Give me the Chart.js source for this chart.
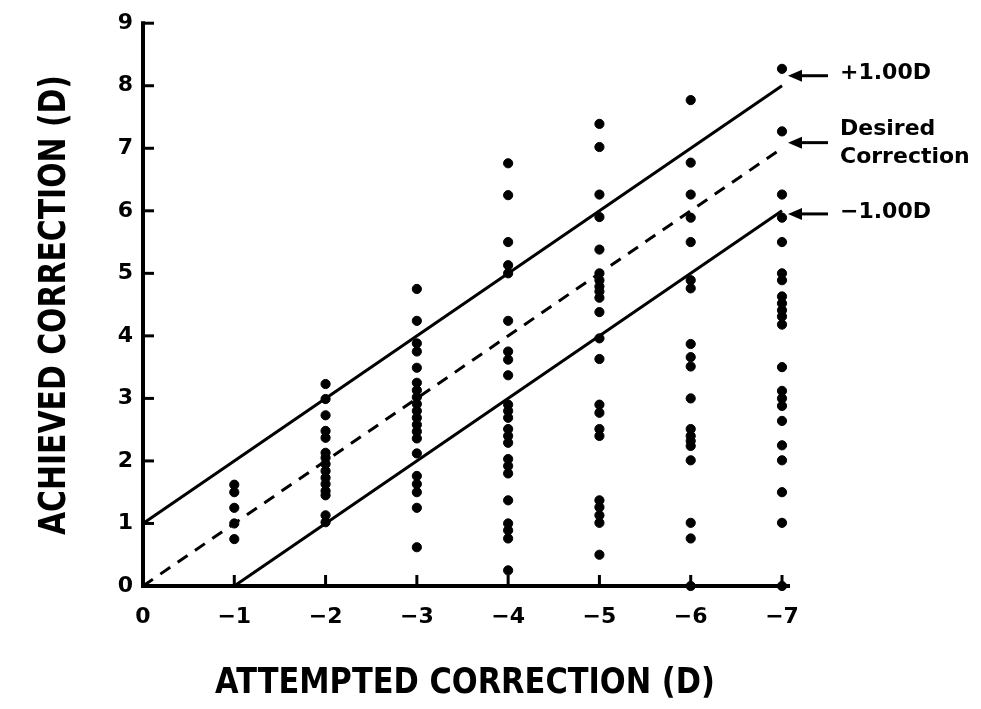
<!DOCTYPE html>
<html>
<head>
<meta charset="utf-8">
<script src="https://cdn.jsdelivr.net/npm/chart.js@4/dist/chart.umd.min.js"></script>
<style>
  html, body { margin: 0; padding: 0; background: #fff; }
  #wrap { width: 981px; height: 709px; }
</style>
</head>
<body>
<div id="wrap"><canvas id="chart" width="981" height="709"></canvas></div>
<script>
// Attempted correction (D) per column, and achieved correction (D) read per column
const attempted = [-1, -2, -3, -4, -5, -6, -7];
const achievedAt1 = [1.62, 1.5, 1.25, 1.0, 0.75];
const achievedAt2 = [3.23, 2.99, 2.73, 2.48, 2.37, 2.13, 2.05, 1.95, 1.84, 1.73, 1.63, 1.52, 1.45, 1.13, 1.02];
const achievedAt3 = [4.75, 4.24, 3.88, 3.75, 3.49, 3.25, 3.13, 3.02, 2.91, 2.8, 2.69, 2.58, 2.47, 2.36, 2.12, 1.76, 1.63, 1.5, 1.25, 0.62];
const achievedAt4 = [6.76, 6.25, 5.5, 5.13, 5.0, 4.24, 3.75, 3.62, 3.37, 2.9, 2.8, 2.69, 2.51, 2.4, 2.29, 2.03, 1.92, 1.8, 1.37, 1.0, 0.89, 0.76, 0.25];
const achievedAt5 = [7.39, 7.02, 6.26, 5.9, 5.38, 5.0, 4.89, 4.79, 4.71, 4.61, 4.38, 3.96, 3.63, 2.9, 2.77, 2.51, 2.4, 1.37, 1.26, 1.13, 1.01, 0.5];
const achievedAt6 = [7.77, 6.77, 6.26, 5.89, 5.5, 4.89, 4.76, 3.87, 3.66, 3.51, 3.0, 2.51, 2.4, 2.32, 2.24, 2.01, 1.01, 0.76, 0];
const achievedAt7 = [8.27, 7.27, 6.26, 5.89, 5.5, 5.0, 4.89, 4.63, 4.52, 4.41, 4.31, 4.18, 3.5, 3.12, 3.0, 2.88, 2.64, 2.25, 2.01, 1.5, 1.01, 0];

// reference lines
const desiredX = [0, -7];
const desiredY = [0, 7];
const plusX = [0, -7];
const plusY = [1, 8];
const minusX = [-1, -7];
const minusY = [0, 6];

const yTicks = [0, 1, 2, 3, 4, 5, 6, 7, 8, 9];
const xTicks = [0, -1, -2, -3, -4, -5, -6, -7];

const lineNotes = ['+1.00D', 'Desired\nCorrection', '\u22121.00D'];

const columns = [achievedAt1, achievedAt2, achievedAt3, achievedAt4, achievedAt5, achievedAt6, achievedAt7];
const points = [];
columns.forEach(function(col, i) {
    col.forEach(function(v) { points.push({ x: attempted[i], y: v }); });
});

function pairs(xs, ys) {
    return xs.map(function(x, i) { return { x: x, y: ys[i] }; });
}

const FONT = '"DejaVu Sans", sans-serif';

// draws axes, inward ticks, titles and arrow notes
const overlay = {
    id: 'overlay',
    beforeDatasetsDraw(chart) {
        const ctx = chart.ctx;
        const x = chart.scales.x, y = chart.scales.y;
        const x0 = x.getPixelForValue(0), y0 = y.getPixelForValue(0);
        ctx.save();
        ctx.strokeStyle = '#000';
        ctx.lineWidth = 4;
        ctx.lineCap = 'square';
        ctx.beginPath();
        ctx.moveTo(x0, y.getPixelForValue(9));
        ctx.lineTo(x0, y0);
        ctx.lineTo(x.getPixelForValue(-7) + 6, y0);
        ctx.stroke();
        ctx.lineWidth = 3;
        ctx.lineCap = 'butt';
        yTicks.forEach(function(v) {
            const p = y.getPixelForValue(v);
            ctx.beginPath(); ctx.moveTo(x0, p); ctx.lineTo(x0 + 11, p); ctx.stroke();
        });
        xTicks.forEach(function(v) {
            const p = x.getPixelForValue(v);
            ctx.beginPath(); ctx.moveTo(p, y0); ctx.lineTo(p, y0 - 11); ctx.stroke();
        });
        ctx.restore();
    },
    afterDraw(chart) {
        const ctx = chart.ctx;
        const x = chart.scales.x, y = chart.scales.y;
        ctx.save();
        ctx.fillStyle = '#000';
        ctx.strokeStyle = '#000';

        // y title
        ctx.save();
        ctx.translate(55, 305);
        ctx.rotate(-Math.PI / 2);
        ctx.font = 'bold 38px ' + FONT;
        let t = 'ACHIEVED CORRECTION (D)';
        let w = ctx.measureText(t).width;
        ctx.scale(460 / w, 1);
        ctx.textAlign = 'center';
        ctx.textBaseline = 'middle';
        ctx.fillText(t, 0, 0);
        ctx.restore();

        // x title
        ctx.save();
        ctx.translate(465, 684);
        ctx.font = 'bold 35px ' + FONT;
        t = 'ATTEMPTED CORRECTION (D)';
        w = ctx.measureText(t).width;
        ctx.scale(500 / w, 1);
        ctx.textAlign = 'center';
        ctx.textBaseline = 'middle';
        ctx.fillText(t, 0, 0);
        ctx.restore();

        // arrows and notes beside the line ends
        const xr = x.getPixelForValue(-7);
        const anchors = [8.16, 7.09, 5.95];
        ctx.font = 'bold 22px ' + FONT;
        ctx.textAlign = 'left';
        ctx.textBaseline = 'middle';
        anchors.forEach(function(v, i) {
            const py = y.getPixelForValue(v);
            const tip = xr + 6;
            ctx.lineWidth = 3;
            ctx.beginPath(); ctx.moveTo(tip + 10, py); ctx.lineTo(tip + 40, py); ctx.stroke();
            ctx.beginPath();
            ctx.moveTo(tip, py);
            ctx.lineTo(tip + 14, py - 6);
            ctx.lineTo(tip + 14, py + 6);
            ctx.closePath();
            ctx.fill();
            const lines = lineNotes[i].split('\n');
            if (lines.length === 1) {
                ctx.fillText(lines[0], tip + 52, py - 2);
            } else {
                ctx.fillText(lines[0], tip + 52, py - 13);
                ctx.fillText(lines[1], tip + 52, py + 15);
            }
        });
        ctx.restore();
    }
};

new Chart(document.getElementById('chart').getContext('2d'), {
    type: 'scatter',
    data: {
        datasets: [
            {
                data: points,
                backgroundColor: '#000',
                borderColor: '#000',
                pointRadius: 4.6,
                pointHoverRadius: 4.6,
                clip: false
            },
            {
                type: 'line',
                data: pairs(plusX, plusY),
                borderColor: '#000',
                borderWidth: 3,
                pointRadius: 0,
                fill: false,
                clip: false
            },
            {
                type: 'line',
                data: pairs(desiredX, desiredY),
                borderColor: '#000',
                borderWidth: 3,
                borderDash: [12, 9],
                pointRadius: 0,
                fill: false,
                clip: false
            },
            {
                type: 'line',
                data: pairs(minusX, minusY),
                borderColor: '#000',
                borderWidth: 3,
                pointRadius: 0,
                fill: false,
                clip: false
            }
        ]
    },
    options: {
        responsive: false,
        animation: false,
        events: [],
        layout: { padding: { left: 0, right: 199, top: 20, bottom: 0 } },
        plugins: {
            legend: { display: false },
            tooltip: { enabled: false }
        },
        scales: {
            x: {
                type: 'linear',
                reverse: true,
                min: -7,
                max: 0,
                afterFit: function(s) { s.height = 123; },
                afterBuildTicks: function(s) { s.ticks = xTicks.map(function(v) { return { value: v }; }); },
                grid: { display: false, drawTicks: false },
                border: { display: false },
                ticks: {
                    padding: 18,
                    color: '#000',
                    font: { family: FONT, size: 22, weight: 'bold' },
                    callback: function(v) { return v === 0 ? '0' : '\u2212' + Math.abs(v); }
                }
            },
            y: {
                type: 'linear',
                min: 0,
                max: 9,
                afterFit: function(s) { s.width = 143; },
                afterBuildTicks: function(s) { s.ticks = yTicks.map(function(v) { return { value: v }; }); },
                grid: { display: false, drawTicks: false },
                border: { display: false },
                ticks: {
                    padding: 10,
                    color: '#000',
                    font: { family: FONT, size: 22, weight: 'bold' }
                }
            }
        }
    },
    plugins: [overlay]
});
</script>
</body>
</html>
